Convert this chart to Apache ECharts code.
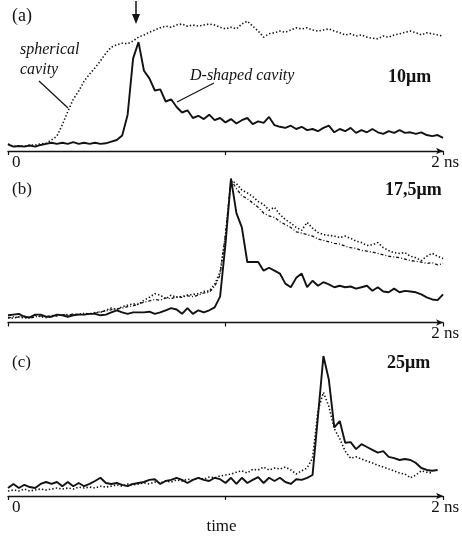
<!DOCTYPE html>
<html><head><meta charset="utf-8">
<script src="https://cdn.jsdelivr.net/npm/echarts@6/dist/echarts.min.js"></script>
<style>html,body{margin:0;padding:0;background:#fff}#c{width:462px;height:538px}</style>
</head><body><div id="c"></div>
<script>
// time axis (ns), shared by all three panels
const times = [
0,0.025,0.05,0.075,0.1,0.125,0.15,0.175,0.2,0.225,
0.25,0.275,0.3,0.325,0.35,0.375,0.4,0.425,0.45,0.475,
0.5,0.525,0.55,0.575,0.6,0.625,0.65,0.675,0.7,0.725,
0.75,0.775,0.8,0.825,0.85,0.875,0.9,0.925,0.95,0.975,
1,1.025,1.05,1.075,1.1,1.125,1.15,1.175,1.2,1.225,
1.25,1.275,1.3,1.325,1.35,1.375,1.4,1.425,1.45,1.475,
1.5,1.525,1.55,1.575,1.6,1.625,1.65,1.675,1.7,1.725,
1.75,1.775,1.8,1.825,1.85,1.875,1.9,1.925,1.95,1.975,
2];

// (a) 10 µm : D-shaped cavity (solid) and spherical cavity (dotted), a.u.
const aSolid = [
0.06,0.04,0.045,0.04,0.05,0.04,0.055,0.065,0.075,0.065,
0.075,0.065,0.08,0.065,0.075,0.065,0.075,0.065,0.07,0.085,
0.10,0.14,0.33,0.84,0.99,0.73,0.66,0.55,0.56,0.45,
0.47,0.40,0.35,0.37,0.30,0.32,0.29,0.33,0.28,0.30,
0.26,0.29,0.25,0.28,0.30,0.245,0.27,0.255,0.31,0.235,
0.22,0.21,0.23,0.20,0.22,0.19,0.20,0.18,0.21,0.23,
0.17,0.20,0.18,0.21,0.165,0.19,0.17,0.20,0.17,0.155,
0.18,0.165,0.19,0.165,0.17,0.155,0.17,0.145,0.135,0.145,
0.12];
const aDotted = [
0.065,0.04,0.045,0.045,0.055,0.055,0.065,0.07,0.10,0.136,
0.24,0.36,0.47,0.545,0.636,0.70,0.755,0.82,0.89,0.945,
0.965,0.98,0.975,1.00,1.035,1.055,1.08,1.10,1.12,1.135,
1.125,1.145,1.155,1.135,1.145,1.135,1.145,1.155,1.145,1.125,
1.11,1.125,1.11,1.155,1.18,1.135,1.09,1.035,1.065,1.075,
1.09,1.08,1.10,1.12,1.11,1.12,1.10,1.09,1.10,1.11,
1.09,1.075,1.055,1.065,1.045,1.055,1.035,1.025,1.02,1.045,
1.035,1.055,1.065,1.08,1.09,1.075,1.055,1.075,1.065,1.055,
1.045];

// (b) 17,5 µm
const bSolid = [
0.05,0.055,0.06,0.04,0.035,0.055,0.055,0.04,0.04,0.055,
0.05,0.04,0.05,0.055,0.055,0.06,0.06,0.05,0.055,0.07,
0.085,0.07,0.06,0.07,0.07,0.07,0.075,0.06,0.07,0.085,
0.10,0.09,0.06,0.10,0.06,0.085,0.07,0.085,0.105,0.18,
0.55,1.0,0.76,0.66,0.42,0.42,0.42,0.36,0.38,0.36,
0.34,0.27,0.245,0.31,0.34,0.245,0.29,0.255,0.28,0.265,
0.245,0.255,0.245,0.25,0.235,0.245,0.255,0.22,0.245,0.215,
0.21,0.235,0.21,0.22,0.215,0.21,0.195,0.175,0.16,0.155,
0.195];
const bDotted = [
0.035,0.03,0.04,0.03,0.035,0.05,0.04,0.035,0.04,0.05,
0.05,0.055,0.05,0.06,0.055,0.06,0.07,0.07,0.085,0.10,
0.09,0.11,0.12,0.13,0.125,0.155,0.175,0.20,0.19,0.165,
0.19,0.175,0.18,0.19,0.195,0.20,0.215,0.22,0.265,0.35,
0.60,0.985,0.965,0.92,0.90,0.875,0.84,0.82,0.78,0.80,
0.75,0.715,0.69,0.66,0.64,0.695,0.655,0.625,0.61,0.605,
0.60,0.59,0.60,0.585,0.565,0.555,0.535,0.54,0.555,0.52,
0.50,0.485,0.48,0.485,0.46,0.45,0.43,0.46,0.48,0.46,
0.445];
const bDashed = [
0.03,0.04,0.035,0.045,0.03,0.04,0.045,0.04,0.05,0.045,
0.055,0.05,0.06,0.055,0.065,0.06,0.065,0.075,0.08,0.09,
0.095,0.10,0.11,0.115,0.13,0.14,0.15,0.16,0.155,0.17,
0.165,0.18,0.175,0.185,0.18,0.19,0.205,0.21,0.25,0.33,
0.62,0.99,0.93,0.88,0.86,0.83,0.80,0.76,0.74,0.73,
0.70,0.68,0.66,0.63,0.62,0.61,0.60,0.58,0.57,0.56,
0.55,0.545,0.53,0.52,0.515,0.50,0.495,0.49,0.48,0.47,
0.46,0.455,0.45,0.44,0.43,0.425,0.42,0.41,0.415,0.40,
0.41];

// (c) 25 µm
const cSolid = [
0.057,0.086,0.057,0.08,0.064,0.057,0.086,0.10,0.086,0.10,
0.07,0.10,0.07,0.093,0.07,0.086,0.107,0.13,0.093,0.086,
0.093,0.08,0.07,0.086,0.093,0.10,0.115,0.12,0.086,0.107,
0.115,0.13,0.115,0.093,0.115,0.13,0.115,0.107,0.13,0.12,
0.093,0.13,0.086,0.13,0.093,0.115,0.135,0.093,0.13,0.107,
0.13,0.10,0.086,0.12,0.115,0.13,0.15,0.57,1.0,0.83,
0.49,0.535,0.38,0.385,0.335,0.37,0.35,0.33,0.31,0.32,
0.28,0.27,0.257,0.264,0.257,0.236,0.20,0.186,0.18,0.186,
null];
const cDotted = [
0.036,0.043,0.036,0.05,0.036,0.043,0.05,0.043,0.05,0.057,
0.05,0.057,0.05,0.064,0.057,0.064,0.057,0.07,0.064,0.07,
0.08,0.07,0.086,0.08,0.086,0.093,0.086,0.10,0.093,0.107,
0.10,0.115,0.107,0.12,0.115,0.13,0.12,0.135,0.13,0.143,
0.15,0.157,0.17,0.18,0.165,0.19,0.186,0.207,0.186,0.20,
0.193,0.207,0.186,0.157,0.18,0.20,0.27,0.61,0.74,0.64,
0.48,0.41,0.32,0.27,0.28,0.264,0.25,0.236,0.22,0.207,
0.193,0.18,0.164,0.157,0.13,0.15,0.18,0.17,0.164,null,
null];

// tick labels at 0, 1, 2 ns
const tickLabelsA = ['0','','2 ns'];
const tickLabelsB = ['','','2 ns'];
const tickLabelsC = ['0','','2 ns'];
const panelTitles = ['(a)','(b)','(c)'];
const thicknessLabels = ['10\u03bcm','17,5\u03bcm','25\u03bcm'];

const FONT = '"Liberation Serif","Times New Roman",serif';
const INK = '#121212';
const chart = echarts.init(document.getElementById('c'), null, {renderer:'canvas'});
function pairs(v){ return times.map((t,i)=>[t, v[i]==null?null:v[i]]); }

const panels = [
  {top:19, height:132, max:1.2, labels:tickLabelsA},
  {top:164.1, height:158.4, max:1.1, labels:tickLabelsB},
  {top:342, height:154, max:1.1, labels:tickLabelsC, name:'time'}
];

function solid(i, d){ return {type:'line', xAxisIndex:i, yAxisIndex:i, data:pairs(d), symbol:'none', showSymbol:false, silent:true, z:3,
  lineStyle:{color:INK, width:1.9}}; }
function dotted(i, d, dash, w){ return {type:'line', xAxisIndex:i, yAxisIndex:i, data:pairs(d), symbol:'none', showSymbol:false, silent:true, z:2,
  lineStyle:{color:INK, width:w||1.6, type:dash||[1.4,2.1]}}; }

const txt = (text, x, y, font) => ({type:'text', x:x, y:y, silent:true,
  style:{text:text, x:0, y:0, font:font, fill:INK, verticalAlign:'middle', align:'left'}});

chart.setOption({
  animation:false,
  backgroundColor:'#fff',
  grid: panels.map(p=>({left:8, width:436, top:p.top, height:p.height})),
  xAxis: panels.map((p,i)=>({gridIndex:i, type:'value', min:0, max:2, interval:1,
    axisLine:{show:true, lineStyle:{color:INK, width:1.3}, symbol:['none','arrow'], symbolSize:[5,7]},
    axisTick:{show:true, length:4, lineStyle:{color:INK, width:1.2}},
    splitLine:{show:false},
    axisLabel:{formatter:v=>p.labels[Math.round(v)]||'', color:INK, fontFamily:FONT, fontSize:17, margin:3,
      alignMinLabel:'left', padding:[0,0,0,4]},
    name:p.name||'', nameLocation:'middle', nameGap:22,
    nameTextStyle:{fontFamily:FONT, fontSize:17, color:INK, padding:[0,8,0,0]}
  })),
  yAxis: panels.map((p,i)=>({gridIndex:i, type:'value', min:0, max:p.max, show:false})),
  series:[
    dotted(0, aDotted), solid(0, aSolid),
    dotted(1, bDotted), dotted(1, bDashed, [3,2,1,2], 1.3), solid(1, bSolid),
    dotted(2, cDotted), solid(2, cSolid)
  ],
  graphic:[
    txt(panelTitles[0], 12, 16, '18px '+FONT),
    txt(panelTitles[1], 12, 190, '17px '+FONT),
    txt(panelTitles[2], 12, 363, '17px '+FONT),
    txt(thicknessLabels[0], 388, 77, 'bold 18px '+FONT),
    txt(thicknessLabels[1], 385, 190, 'bold 18px '+FONT),
    txt(thicknessLabels[2], 387, 363, 'bold 18px '+FONT),
    txt('spherical', 20, 50, 'italic 16px '+FONT),
    txt('cavity', 20, 70, 'italic 16px '+FONT),
    txt('D-shaped cavity', 190, 76, 'italic 16px '+FONT),
    {type:'line', silent:true, shape:{x1:39, y1:81, x2:68, y2:108}, style:{stroke:INK, lineWidth:1.2}},
    {type:'line', silent:true, shape:{x1:214, y1:83, x2:177, y2:102}, style:{stroke:INK, lineWidth:1.2}},
    {type:'line', silent:true, shape:{x1:136, y1:1, x2:136, y2:16}, style:{stroke:INK, lineWidth:1.5}},
    {type:'polygon', silent:true, shape:{points:[[132,14],[140,14],[136,24]]}, style:{fill:INK}}
  ]
});
</script></body></html>
